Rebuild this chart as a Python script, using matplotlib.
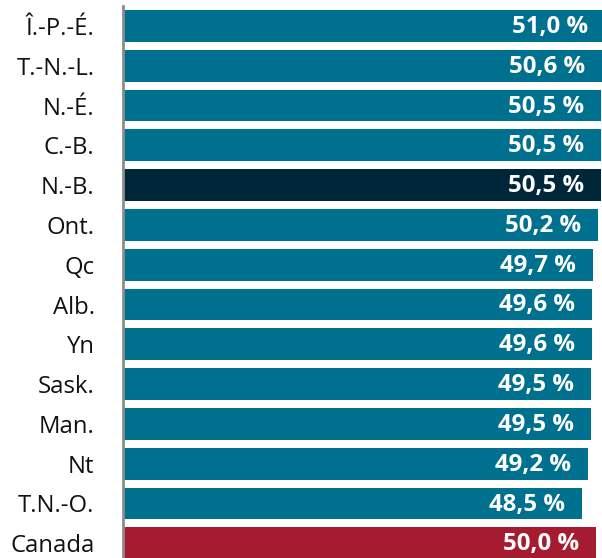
import matplotlib
matplotlib.use("Agg")
import matplotlib.pyplot as plt

categories = ["Î.-P.-É.", "T.-N.-L.", "N.-É.", "C.-B.", "N.-B.", "Ont.", "Qc",
              "Alb.", "Yn", "Sask.", "Man.", "Nt", "T.N.-O.", "Canada"]
values = [51.0, 50.6, 50.5, 50.5, 50.5, 50.2, 49.7, 49.6, 49.6, 49.5, 49.5, 49.2, 48.5, 50.0]
value_labels = ["51,0 %", "50,6 %", "50,5 %", "50,5 %", "50,5 %", "50,2 %", "49,7 %",
                "49,6 %", "49,6 %", "49,5 %", "49,5 %", "49,2 %", "48,5 %", "50,0 %"]

TEAL = "#00708f"
NAVY = "#00263a"
RED = "#a51c30"
colors = [TEAL] * len(categories)
colors[categories.index("N.-B.")] = NAVY
colors[categories.index("Canada")] = RED

plt.rcParams["font.family"] = ["Open Sans", "DejaVu Sans"]

W, H = 602, 558
fig = plt.figure(figsize=(W / 100, H / 100), dpi=100)
pitch = 39.8
ax_left = 123
ax_top = 6
ax_h = pitch * len(categories)
scale = 9.46  # px per unit
ax_w = 700 - ax_left
ax = fig.add_axes([ax_left / W, (H - ax_top - ax_h) / H, ax_w / W, ax_h / H])

y = list(range(len(categories)))
ax.barh(y, values, height=0.8, color=colors, left=0)
ax.set_xlim(0, ax_w / scale)
ax.set_ylim(len(categories) - 0.5, -0.5)

for yi, v, lab in zip(y, values, value_labels):
    ax.annotate(lab, xy=(v, yi), xytext=(-17, -1), textcoords="offset pixels",
                ha="right", va="center", color="white", fontsize=17.3,
                fontweight="bold")

ax.set_yticks(y)
ax.set_yticklabels(categories, fontsize=17.2, color="#111111")
ax.tick_params(axis="y", length=0, pad=20.5)
ax.set_xticks([])
for s in ["top", "right", "bottom"]:
    ax.spines[s].set_visible(False)
ax.spines["left"].set_color("#8c8c8c")
ax.spines["left"].set_linewidth(2)

fig.savefig("out.png", dpi=100)
